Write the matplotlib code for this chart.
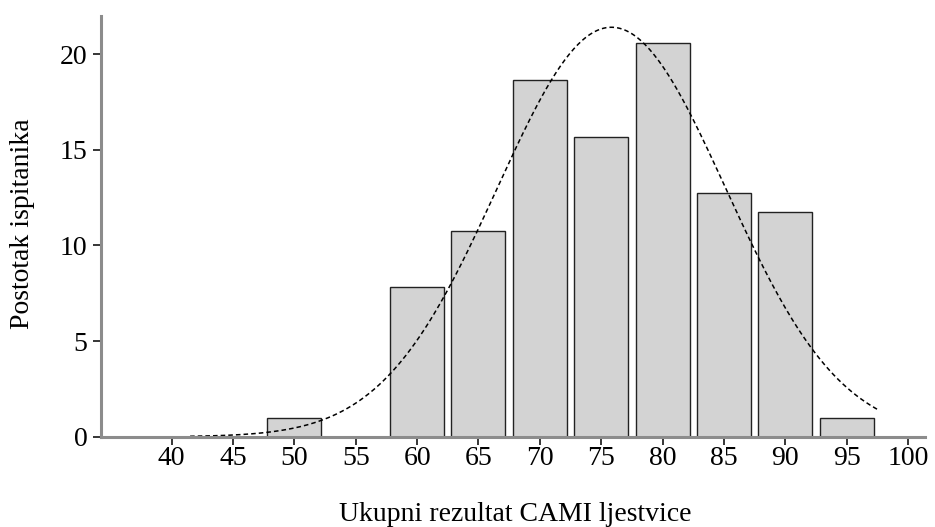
import numpy as np
import matplotlib
matplotlib.use("Agg")
import matplotlib.pyplot as plt

# histogram of total CAMI scores (percent of respondents per 5-point bin)
bin_centers = [50, 60, 65, 70, 75, 80, 85, 90, 95]
percent = [0.98, 7.84, 10.78, 18.63, 15.69, 20.59, 12.75, 11.76, 0.98]
x_ticks = [40, 45, 50, 55, 60, 65, 70, 75, 80, 85, 90, 95, 100]
y_ticks = [0, 5, 10, 15, 20]
bin_width = 5

plt.rcParams['font.family'] = ['Liberation Serif', 'DejaVu Serif']

fig = plt.figure(figsize=(9.35, 5.27), dpi=100)
ax = fig.add_axes([0.1075, 0.1713, 0.882, 0.7983])

ax.bar(bin_centers, percent, width=4.4, color='#d3d3d3',
       edgecolor='#222222', linewidth=1.0, zorder=2)

# normal curve fitted to the histogram
centers = np.array(bin_centers, dtype=float)
pct = np.array(percent)
mean = np.sum(centers * pct) / pct.sum()
sd = np.sqrt(np.sum(pct * (centers - mean) ** 2) / pct.sum())
xs = np.linspace(41.5, 97.5, 300)
ys = 100 * bin_width / (sd * np.sqrt(2 * np.pi)) * np.exp(-0.5 * ((xs - mean) / sd) ** 2)
ax.plot(xs, ys, color='black', linestyle=(0, (3, 2)), linewidth=1.1, zorder=3)

ax.set_xlim(34.2, 101.4)
ax.set_ylim(0, 22)
ax.set_xticks(x_ticks)
ax.set_yticks(y_ticks)
ax.tick_params(axis='both', labelsize=20, colors='black', width=1.1)
ax.tick_params(axis='x', length=5.5, pad=1)
ax.tick_params(axis='y', length=5.5, pad=4)

for side in ['top', 'right']:
    ax.spines[side].set_visible(False)
for side in ['left', 'bottom']:
    ax.spines[side].set_color('#8c8c8c')
    ax.spines[side].set_linewidth(2.2)
    ax.spines[side].set_zorder(4)

ax.set_xlabel('Ukupni rezultat CAMI ljestvice', fontsize=20)
ax.set_ylabel('Postotak ispitanika', fontsize=20)
ax.xaxis.set_label_coords(0.503, -0.155)
ax.yaxis.set_label_coords(-0.08, 0.506)

fig.savefig('out.png', dpi=100)
